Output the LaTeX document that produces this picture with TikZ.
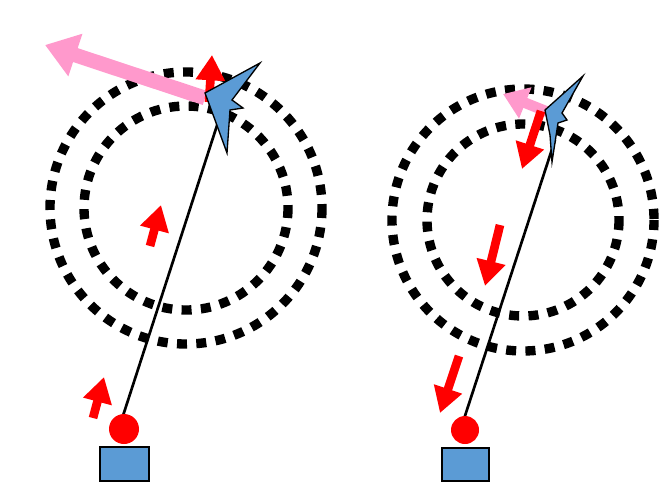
\documentclass[tikz,border=0pt]{standalone}
\usetikzlibrary{arrows.meta}
\definecolor{planeblue}{RGB}{91,155,213}
\definecolor{pinkarr}{RGB}{255,153,204}
\tikzset{
  orbit/.style={line width=7pt, dash pattern=on 7.5pt off 7pt},
  bigarr/.style={pinkarr, line width=11pt, -{Triangle[width=32pt,length=24pt]}},
  redarr/.style={red, line width=6.5pt, -{Triangle[width=21pt,length=19pt]}},
  plane/.style={fill=planeblue, draw=black, line width=1pt, line join=miter},
}
\begin{document}
\begin{tikzpicture}[x=0.75pt, y=-0.75pt]
  \useasboundingbox (0,0) rectangle (659,482);

  % left scene
  \draw [orbit] (186,208) circle [radius=136];
  \draw [orbit] (186,208) circle [radius=102];
  \draw [line width=2pt] (120,425) -- (222,110);
  \draw [bigarr] (205,98) -- (45,45);
  \draw [redarr] (209,102) -- (212,55);
  \draw [plane] (260,63) -- (205,93) -- (215,120) -- (227,153) -- (230,110) -- (243,108) -- (232,100) -- cycle;
  \draw [redarr] (150,246) -- (161,205);
  \draw [redarr] (93,418) -- (104,377);
  \fill [red] (124,429) circle [radius=15];
  \draw [fill=planeblue, line width=1pt] (100,447) rectangle (149,481);

  % right scene
  \draw [orbit] (523,220) circle [radius=131];
  \draw [orbit] (523,220) circle [radius=96];
  \draw [line width=2pt] (462,425) -- (555,140);
  \draw [bigarr, line width=8pt, -{Triangle[width=24pt,length=18pt]}] (548,112) -- (503,94);
  \draw [redarr] (541,111) -- (522,169);
  \draw [redarr] (500,225) -- (485,286);
  \draw [redarr] (459,356) -- (440,413);
  \draw [plane] (583,76) -- (545,110) -- (550,135) -- (552,162) -- (558,123) -- (567,120) -- (562,113) -- cycle;
  \fill [red] (465,430) circle [radius=14];
  \draw [fill=planeblue, line width=1pt] (442,448) rectangle (489,481);
\end{tikzpicture}
\end{document}
